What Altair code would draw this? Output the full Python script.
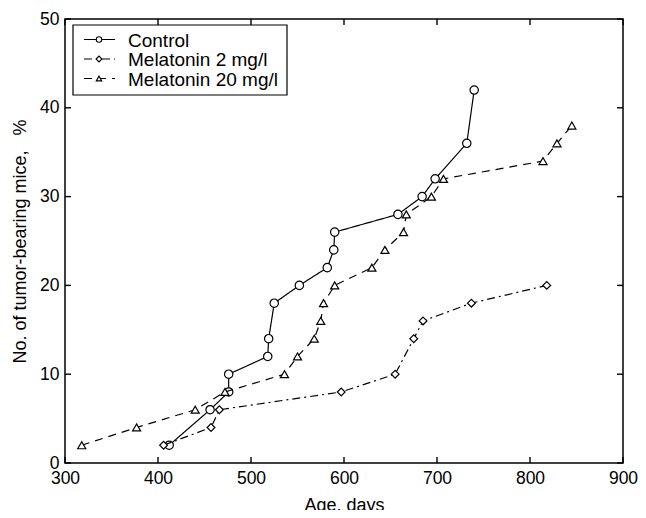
import altair as alt
import pandas as pd

series_names = ["Control", "Melatonin 2 mg/l", "Melatonin 20 mg/l"]

control_days = [412, 456, 476, 476, 518, 519, 525, 552, 582, 589, 590, 658, 684, 698, 732, 740]
control_vals = [2, 6, 8, 10, 12, 14, 18, 20, 22, 24, 26, 28, 30, 32, 36, 42]

mel2_days = [406, 457, 466, 597, 655, 675, 685, 737, 818]
mel2_vals = [2, 4, 6, 8, 10, 14, 16, 18, 20]

mel20_days = [318, 377, 440, 472, 536, 550, 568, 575, 578, 590, 630, 644, 664, 667, 694, 707, 814, 829, 845]
mel20_vals = [2, 4, 6, 8, 10, 12, 14, 16, 18, 20, 22, 24, 26, 28, 30, 32, 34, 36, 38]

x_ticks = [300, 400, 500, 600, 700, 800, 900]
y_ticks = [0, 10, 20, 30, 40, 50]

W, H = 558, 444
FONT = "Liberation Sans"
FS = 17.5
LFS = 19

shapes = ["circle", "diamond", "triangle-up"]
dashes = [[1, 0], [8, 4, 2, 4], [8, 6]]
sizes = [70, 60, 65]
legend_sizes = [30, 34, 30]

xs = alt.Scale(domain=[300, 900], nice=False)
ys = alt.Scale(domain=[0, 50], nice=False)

layers = []
for name, days, vals, shp, dsh, sz in zip(
    series_names,
    [control_days, mel2_days, mel20_days],
    [control_vals, mel2_vals, mel20_vals],
    shapes, dashes, sizes,
):
    df = pd.DataFrame({"day": days, "val": vals, "series": name})
    base = alt.Chart(df).encode(
        x=alt.X("day:Q", scale=xs, title="Age, days",
                axis=alt.Axis(values=x_ticks, format="d", labelFlush=False)),
        y=alt.Y("val:Q", scale=ys, title="No. of tumor-bearing mice,\u00a0\u00a0\u00a0%",
                axis=alt.Axis(values=y_ticks, format="d", labelFlush=False)),
    )
    line = base.mark_line(color="black", strokeWidth=1.2, strokeDash=dsh)
    pts = base.mark_point(shape=shp, size=sz, filled=True, fill="white",
                          stroke="black", strokeWidth=1.2, opacity=1)
    layers += [line, pts]

# inward tick marks on all four sides
xt = pd.DataFrame({"t": x_ticks})
yt = pd.DataFrame({"t": y_ticks})
tick_style = dict(color="black", strokeWidth=1.4)
layers.append(alt.Chart(xt).mark_rule(**tick_style).encode(
    x=alt.X("t:Q", scale=xs), y=alt.value(H), y2=alt.value(H - 6)))
layers.append(alt.Chart(xt).mark_rule(**tick_style).encode(
    x=alt.X("t:Q", scale=xs), y=alt.value(0), y2=alt.value(6)))
layers.append(alt.Chart(yt).mark_rule(**tick_style).encode(
    y=alt.Y("t:Q", scale=ys), x=alt.value(0), x2=alt.value(6)))
layers.append(alt.Chart(yt).mark_rule(**tick_style).encode(
    y=alt.Y("t:Q", scale=ys), x=alt.value(W), x2=alt.value(W - 6)))

# legend box
LX0, LY0, LX1, LY1 = 8, 6, 222, 76
layers.append(alt.Chart(pd.DataFrame({"a": [0]})).mark_rect(
    fill="white", stroke="black", strokeWidth=1.2).encode(
    x=alt.value(LX0), x2=alt.value(LX1), y=alt.value(LY0), y2=alt.value(LY1)))
for i, (name, shp, dsh, sz) in enumerate(zip(series_names, shapes, dashes, legend_sizes)):
    ry = 20.5 + i * 19.5
    d = pd.DataFrame({"series": [name]})
    layers.append(alt.Chart(d).mark_rule(color="black", strokeWidth=1.2, strokeDash=dsh).encode(
        x=alt.value(19), x2=alt.value(50), y=alt.value(ry)))
    layers.append(alt.Chart(d).mark_point(shape=shp, size=sz, filled=True, fill="white",
                                          stroke="black", strokeWidth=1.1, opacity=1).encode(
        x=alt.value(34), y=alt.value(ry)))
    layers.append(alt.Chart(d).mark_text(align="left", baseline="middle", font=FONT,
                                         fontSize=LFS, color="black").encode(
        x=alt.value(63), y=alt.value(ry + 1), text="series:N"))

chart = alt.layer(*layers).properties(
    width=W, height=H,
    autosize=alt.AutoSizeParams(type="none"),
    padding={"left": 57, "top": 11, "right": 15, "bottom": 47},
).configure_view(
    stroke="black", strokeWidth=1.5,
).configure_axis(
    domain=False, ticks=False, grid=False,
    labelFont=FONT, labelFontSize=FS, labelColor="black", labelPadding=6,
    titleFont=FONT, titleFontSize=18, titleColor="black", titleFontWeight="normal",
).configure_axisX(
    titlePadding=10,
).configure_axisY(
    titlePadding=10,
)

chart.save("out.html", embed_options={"renderer": "svg", "actions": False})
